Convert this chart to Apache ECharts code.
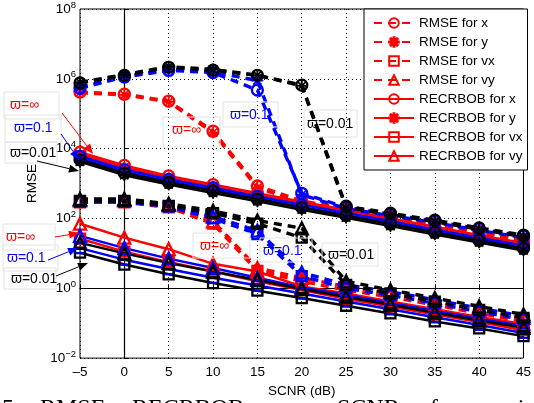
<!DOCTYPE html>
<html><head><meta charset="utf-8">
<script src="https://cdn.jsdelivr.net/npm/echarts@6/dist/echarts.min.js"></script>
<style>html,body{margin:0;padding:0;background:#fff}#c{width:534px;height:403px}</style>
</head><body><div id="c"></div>
<script>
// SCNR (dB)
const snr = [-5, 0, 5, 10, 15, 20, 25, 30, 35, 40, 45];
// all values are log10(RMSE)
// ϖ = ∞ (red)
const rmseX_inf  = [5.62, 5.56, 5.36, 4.50, 2.93, 2.50, 2.28, 2.06, 1.85, 1.62, 1.40];
const rmseY_inf  = [5.60, 5.54, 5.34, 4.46, 2.88, 2.45, 2.23, 2.01, 1.80, 1.57, 1.35];
const rmseVx_inf = [2.46, 2.46, 2.32, 1.85, 0.50, 0.20, -0.05, -0.25, -0.48, -0.72, -0.95];
const rmseVy_inf = [2.52, 2.52, 2.38, 1.92, 0.58, 0.30, 0.05, -0.15, -0.38, -0.62, -0.85];
const crbX_inf   = [3.90, 3.52, 3.22, 2.97, 2.72, 2.48, 2.24, 2.00, 1.76, 1.52, 1.30];
const crbY_inf   = [3.84, 3.46, 3.16, 2.91, 2.66, 2.42, 2.18, 1.94, 1.70, 1.46, 1.24];
const crbVx_inf  = [1.42, 1.05, 0.75, 0.48, 0.20, -0.05, -0.30, -0.52, -0.75, -0.97, -1.20];
const crbVy_inf  = [1.85, 1.45, 1.12, 0.70, 0.48, 0.05, -0.15, -0.38, -0.60, -0.82, -1.02];
// ϖ = 0.1 (blue)
const rmseX_p1  = [5.73, 6.05, 6.24, 6.18, 5.68, 2.72, 2.32, 2.12, 1.92, 1.70, 1.49];
const rmseY_p1  = [5.76, 6.07, 6.27, 6.20, 5.95, 2.68, 2.28, 2.08, 1.88, 1.66, 1.45];
const rmseVx_p1 = [2.48, 2.48, 2.34, 2.00, 1.55, 0.35, 0.00, -0.20, -0.43, -0.67, -0.90];
const rmseVy_p1 = [2.54, 2.54, 2.40, 2.05, 1.65, 0.45, 0.10, -0.10, -0.33, -0.57, -0.80];
const crbX_p1   = [3.78, 3.40, 3.12, 2.88, 2.63, 2.39, 2.16, 1.92, 1.68, 1.45, 1.22];
const crbY_p1   = [3.72, 3.34, 3.06, 2.82, 2.57, 2.33, 2.10, 1.86, 1.62, 1.39, 1.16];
const crbVx_p1  = [1.15, 0.82, 0.55, 0.30, 0.08, -0.15, -0.38, -0.60, -0.83, -1.05, -1.28];
const crbVy_p1  = [1.50, 1.15, 0.85, 0.58, 0.30, 0.02, -0.20, -0.42, -0.65, -0.87, -1.08];
// ϖ = 0.01 (black)
const rmseX_p01  = [5.88, 6.10, 6.33, 6.25, 6.10, 5.82, 2.35, 2.15, 1.95, 1.73, 1.52];
const rmseY_p01  = [5.90, 6.12, 6.35, 6.27, 6.10, 5.80, 2.31, 2.11, 1.91, 1.69, 1.48];
const rmseVx_p01 = [2.50, 2.50, 2.36, 2.15, 1.85, 1.45, 0.10, -0.15, -0.38, -0.62, -0.85];
const rmseVy_p01 = [2.56, 2.56, 2.42, 2.22, 1.94, 1.72, 0.20, -0.05, -0.28, -0.52, -0.75];
const crbX_p01   = [3.68, 3.30, 3.03, 2.79, 2.55, 2.31, 2.08, 1.84, 1.60, 1.37, 1.14];
const crbY_p01   = [3.62, 3.24, 2.97, 2.73, 2.49, 2.25, 2.02, 1.78, 1.54, 1.31, 1.08];
const crbVx_p01  = [1.02, 0.68, 0.40, 0.15, -0.07, -0.28, -0.50, -0.72, -0.95, -1.15, -1.37];
const crbVy_p01  = [1.30, 1.00, 0.72, 0.48, 0.24, -0.02, -0.25, -0.47, -0.70, -0.92, -1.13];

const legendNames = ['RMSE for x', 'RMSE for y', 'RMSE for vx', 'RMSE for vy',
  'RECRBOB for x', 'RECRBOB for y', 'RECRBOB for vx', 'RECRBOB for vy'];
const captionWords = ['5.', 'RMSE,', 'RECRBOB', 'versus', 'SCNR', 'for', 'various'];

const FONT = 'Liberation Sans, Arial, Helvetica, sans-serif';
const ASTERISK = 'path://M9,0H11V20H9ZM0,9H20V11H0ZM2.2,3.6L3.6,2.2L17.8,16.4L16.4,17.8ZM16.4,2.2L17.8,3.6L3.6,17.8L2.2,16.4Z';
const SYMS = [
  {symbol: 'circle', size: 11, hollow: true},
  {symbol: ASTERISK, size: 11, hollow: false},
  {symbol: 'rect', size: 10, hollow: true},
  {symbol: 'triangle', size: 12, hollow: true}
];

const groups = [
  {suffix: '', color: '#ff0000', data: [rmseX_inf, rmseY_inf, rmseVx_inf, rmseVy_inf, crbX_inf, crbY_inf, crbVx_inf, crbVy_inf]},
  {suffix: ' (ϖ=0.1)', color: '#0000ff', data: [rmseX_p1, rmseY_p1, rmseVx_p1, rmseVy_p1, crbX_p1, crbY_p1, crbVx_p1, crbVy_p1]},
  {suffix: ' (ϖ=0.01)', color: '#000000', data: [rmseX_p01, rmseY_p01, rmseVx_p01, rmseVy_p01, crbX_p01, crbY_p01, crbVx_p01, crbVy_p01]}
];

const series = [];
groups.forEach(g => {
  g.data.forEach((arr, i) => {
    const dashed = i < 4;
    const s = SYMS[i % 4];
    series.push({
      name: legendNames[i] + g.suffix,
      type: 'line',
      data: snr.map((x, k) => [x, arr[k]]),
      symbol: s.symbol,
      symbolSize: s.size,
      showAllSymbol: true,
      lineStyle: {color: g.color, width: dashed ? 3.4 : 2.5, type: dashed ? [8, 6] : 'solid'},
      itemStyle: s.hollow
        ? {color: 'rgba(255,255,255,0)', borderColor: g.color, borderWidth: 2.3}
        : {color: g.color, borderColor: g.color, borderWidth: 0.8},
      emphasis: {disabled: true},
      z: 2
    });
  });
});

function txt(x, y, text, color) {
  return {type: 'text', x: x, y: y, z: 100,
    style: {text: text, fill: color, font: '14px ' + FONT, textVerticalAlign: 'middle', textAlign: 'left'}};
}
function box(x, y, w, h) {
  return {type: 'rect', z: 99, shape: {x: x, y: y, width: w, height: h},
    style: {fill: 'rgba(255,255,255,0)', stroke: '#e4e4e4', lineWidth: 1}};
}
function arrow(x1, y1, x2, y2, color) {
  const a = Math.atan2(y2 - y1, x2 - x1);
  const L = 10, W = 4;
  const bx = x2 - L * Math.cos(a), by = y2 - L * Math.sin(a);
  const px = -Math.sin(a) * W, py = Math.cos(a) * W;
  return [
    {type: 'line', z: 100, shape: {x1: x1, y1: y1, x2: bx, y2: by}, style: {stroke: color, lineWidth: 1}},
    {type: 'polygon', z: 100, shape: {points: [[x2, y2], [bx + px, by + py], [bx - px, by - py]]}, style: {fill: color}}
  ];
}
// caption words laid out like a justified line (only the tops show)
const captionX = [2, 40, 132, 261, 337, 430, 487];
function caption() {
  return captionWords.map((w, i) => ({type: 'text', x: captionX[i], y: 397, z: 100,
    style: {text: w, fill: '#000', font: '24px Liberation Serif, Times New Roman, serif', textVerticalAlign: 'top'}}));
}

const RED = '#ff0000', BLUE = '#0000ff', BLK = '#000000';
const graphics = [
  // top-left labels
  box(4, 92, 55, 27), txt(10, 105, 'ϖ=∞', RED),
  box(5, 115, 56, 27), txt(14, 128, 'ϖ=0.1', BLUE),
  box(5, 142, 52, 21), txt(10, 153, 'ϖ=0.01', BLK),
  ...arrow(62, 113, 93, 154, RED),
  ...arrow(61, 134, 79, 160, BLUE),
  ...arrow(37, 161, 79, 171, BLK),
  // lower-left labels
  box(3, 224, 52, 26), txt(6, 237, 'ϖ=∞', RED),
  box(3, 245, 55, 26), txt(7, 258, 'ϖ=0.1', BLUE),
  box(4, 268, 52, 21), txt(11, 279, 'ϖ=0.01', BLK),
  ...arrow(55, 237, 79, 233, RED),
  ...arrow(48, 260, 78, 248, BLUE),
  ...arrow(56, 276, 88, 263, BLK),
  // middle upper
  box(163, 117, 57, 30), txt(172, 130, 'ϖ=∞', RED),
  box(223, 102, 55, 25), txt(230, 115, 'ϖ=0.1', BLUE),
  box(304, 110, 53, 27), txt(307, 124, 'ϖ=0.01', BLK),
  // middle lower
  box(193, 233, 57, 25), txt(200, 246, 'ϖ=∞', RED),
  box(260, 238, 52, 24), txt(263, 251, 'ϖ=0.1', BLUE),
  box(322, 243, 56, 23), txt(328, 255, 'ϖ=0.01', BLK),
  ...caption()
];

const chart = echarts.init(document.getElementById('c'), null, {renderer: 'canvas'});
chart.setOption({
  animation: false,
  backgroundColor: '#fff',
  grid: {left: 80, right: 7, top: 8, bottom: 42, show: true, borderColor: '#000', borderWidth: 1, backgroundColor: 'rgba(0,0,0,0)'},
  xAxis: {
    type: 'value', min: -5, max: 45, interval: 5,
    name: 'SCNR (dB)', nameLocation: 'middle', nameGap: 23,
    nameTextStyle: {fontSize: 13.5, fontFamily: FONT, color: '#000'},
    axisLine: {lineStyle: {color: '#000', width: 1.2}},
    axisTick: {inside: true, length: 4, lineStyle: {color: '#000'}},
    axisLabel: {fontSize: 13.5, fontFamily: FONT, color: '#000', margin: 7,
      formatter: v => v < 0 ? '–' + (-v) : String(v)},
    splitLine: {show: true, lineStyle: {color: '#000', type: [1, 3], width: 1}}
  },
  yAxis: {
    type: 'value', min: -2, max: 8, interval: 2,
    name: 'RMSE', nameLocation: 'middle', nameGap: 37,
    nameTextStyle: {fontSize: 13.5, fontFamily: FONT, color: '#000'},
    axisLine: {show: true, lineStyle: {color: '#000', width: 1.2}},
    axisTick: {show: true, inside: true, length: 4, lineStyle: {color: '#000'}},
    axisLabel: {fontFamily: FONT, color: '#000', margin: 4,
      formatter: v => '{b|10}{e|' + (v < 0 ? '−' + (-v) : v) + '}',
      rich: {b: {fontSize: 13.5, fontFamily: FONT, color: '#000'},
             e: {fontSize: 9.5, fontFamily: FONT, color: '#000', padding: [0, 0, 8, 0]}}},
    splitLine: {show: true, lineStyle: {color: '#000', type: [1, 3], width: 1}}
  },
  legend: {
    data: legendNames, orient: 'vertical', left: 364, top: 9,
    padding: [7, 5, 7, 9], itemGap: 5, itemWidth: 40, itemHeight: 12,
    backgroundColor: '#fff', borderColor: '#000', borderWidth: 1,
    textStyle: {fontSize: 13.5, fontFamily: FONT, color: '#000'},
    selectedMode: false
  },
  graphic: graphics,
  series: series
});
</script></body></html>
